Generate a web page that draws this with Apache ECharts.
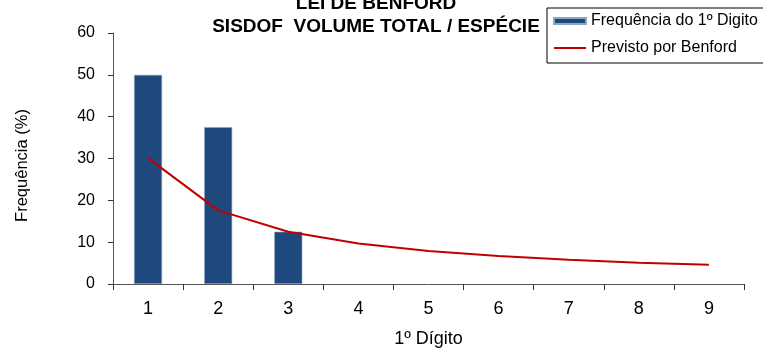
<!DOCTYPE html>
<html><head><meta charset="utf-8">
<script src="https://cdn.jsdelivr.net/npm/echarts@6/dist/echarts.min.js"></script>
<style>html,body{margin:0;padding:0;background:#fff}#c{width:763px;height:353px}</style>
</head><body><div id="c"></div>
<script>
const categories = ['1','2','3','4','5','6','7','8','9'];
const observed = [50, 37.5, 12.5, null, null, null, null, null, null];
const benford = [30.1, 17.6, 12.5, 9.7, 7.9, 6.7, 5.8, 5.1, 4.6];
const yTicks = {min: 0, max: 60, interval: 10};
const titleText = 'LEI DE BENFORD\nSISDOF  VOLUME TOTAL / ESPÉCIE';
const seriesNames = ['Frequência do 1º Digito', 'Previsto por Benford'];

const chart = echarts.init(document.getElementById('c'), null, {renderer: 'canvas'});
const font = 'Liberation Sans, Arial, sans-serif';
chart.setOption({
  animation: false,
  backgroundColor: '#fff',
  title: {
    text: titleText, left: 371, top: -13, textAlign: 'center',
    textStyle: {fontFamily: font, fontWeight: 'bold', fontSize: 19, lineHeight: 23, color: '#000'}
  },
  legend: {
    orient: 'vertical', left: 547, top: 8,
    padding: [5, 40, 7, 6],
    itemGap: 11, itemWidth: 32, itemHeight: 6,
    borderColor: '#000', borderWidth: 1,
    textStyle: {fontFamily: font, fontSize: 16, color: '#000'},
    data: [{name: seriesNames[0], icon: 'rect'},
           {name: seriesNames[1], itemStyle: {opacity: 0}}]
  },
  grid: {left: 113, right: 19, top: 33, bottom: 65},
  xAxis: {
    type: 'category', data: categories,
    name: '1º Dígito', nameLocation: 'middle', nameGap: 46,
    nameTextStyle: {fontFamily: font, fontSize: 18, color: '#000'},
    axisLine: {lineStyle: {color: '#555', width: 1}},
    axisTick: {show: true, length: 6, lineStyle: {color: '#333'}},
    axisLabel: {fontFamily: font, fontSize: 18, color: '#000', margin: 16}
  },
  yAxis: {
    type: 'value', min: yTicks.min, max: yTicks.max, interval: yTicks.interval,
    name: 'Frequência (%)', nameLocation: 'middle', nameGap: 82,
    nameTextStyle: {fontFamily: font, fontSize: 16.5, color: '#000', padding: [0, 14, 0, 0]},
    axisLine: {show: true, lineStyle: {color: '#555', width: 1}},
    axisTick: {show: true, length: 5, lineStyle: {color: '#333'}},
    splitLine: {show: false},
    axisLabel: {fontFamily: font, fontSize: 16, color: '#000', margin: 18}
  },
  series: [
    {name: seriesNames[0], type: 'bar', data: observed, barWidth: '40%',
     itemStyle: {color: '#1F497D', borderColor: '#8fa6c4', borderWidth: 0.6}},
    {name: seriesNames[1], type: 'line', data: benford, symbol: 'none',
     lineStyle: {color: '#C00000', width: 2}, itemStyle: {color: '#C00000'}}
  ]
});
</script></body></html>
